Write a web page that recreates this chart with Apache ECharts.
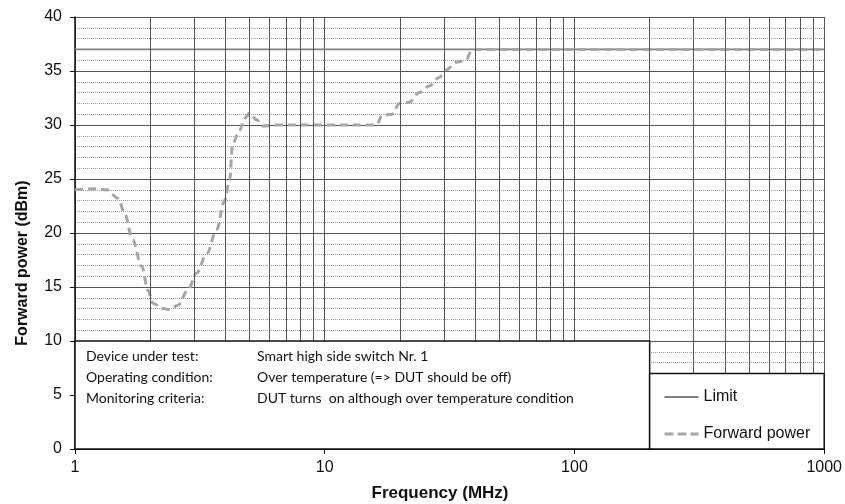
<!DOCTYPE html>
<html>
<head>
    <meta http-equiv="Content-Type" content="text/html; charset=utf-8"/>
    <title>Forward power</title>
    <style type="text/css">
        body { margin: 0; background: #fff; }
        #container { width: 845px; height: 504px; }
    </style>
</head>
<body>
<div id="container"></div>
<script src="https://cdn.jsdelivr.net/npm/echarts@6/dist/echarts.min.js"></script>
<script type="text/javascript">
    // frequency (MHz) and forward power (dBm)
    var freqs = [1, 1.2, 1.34, 1.49, 1.58, 1.70, 1.85, 1.96, 2.05, 2.25, 2.40, 2.58, 2.83, 3.07, 3.37, 3.69, 3.97, 4.16, 4.28, 4.56, 4.78, 5.0, 5.33, 5.64, 6.5, 10, 16.1, 17.0, 18.6, 19.9, 21.8, 23.9, 26.2, 28.7, 30.6, 33.6, 36.8, 38.9, 40, 100, 1000];
    var power = [24.0, 24.1, 24.0, 23.2, 21.8, 19.4, 16.9, 14.7, 13.5, 13.0, 12.9, 13.3, 14.7, 16.3, 18.1, 20.3, 23.0, 24.9, 28.3, 29.5, 30.6, 31.1, 30.5, 29.9, 30, 30, 30, 30.9, 31.0, 32.0, 32.1, 33.0, 33.6, 34.4, 35.1, 35.8, 36.0, 37, 37, 37, 37];
    var limitFreqs = [1, 1000];
    var limitValues = [37, 37];
    // the 2..9 lines of each decade
    var gridFreqs = [2, 3, 4, 5, 6, 7, 8, 9, 20, 30, 40, 50, 60, 70, 80, 90, 200, 300, 400, 500, 600, 700, 800, 900];
    var infoLabels = ['Device under test:', 'Operating condition:', 'Monitoring criteria:'];
    var infoTexts = ['Smart high side switch Nr. 1', 'Over temperature (=> DUT should be off)', 'DUT turns  on although over temperature condition'];
    // text box and legend box corners, [freq, dBm]
    var infoBox = [[1, 10], [200, 0]];
    var legendBox = [[200, 7], [1000, 0]];

    var myChart = echarts.init(document.getElementById('container'));

    function pairs(xs, ys) {
        var out = [];
        for (var i = 0; i < xs.length; i++) out.push([xs[i], ys[i]]);
        return out;
    }

    var option = {
        animation: false,
        backgroundColor: '#fff',
        textStyle: {fontFamily: 'Liberation Sans, Arial, sans-serif'},
        grid: {left: 75, right: 19, top: 17, bottom: 55, containLabel: false},
        legend: {
            orient: 'vertical', left: 658, top: 384, itemGap: 21,
            itemWidth: 34, itemHeight: 10,
            textStyle: {fontSize: 16, color: '#111'},
            itemStyle: {color: 'transparent', borderWidth: 0},
            data: [
                {name: 'Limit', lineStyle: {color: '#808080', width: 2}},
                {name: 'Forward power', lineStyle: {color: '#a6a6a6', width: 3, type: [9, 4]}}
            ],
            z: 100
        },
        xAxis: {
            type: 'log', logBase: 10, min: 1, max: 1000,
            axisLine: {show: true, onZero: false, lineStyle: {color: '#111', width: 1.5}},
            axisTick: {show: true, length: 5, lineStyle: {color: '#111'}},
            axisLabel: {fontSize: 16, color: '#111', margin: 11, formatter: function (v) { return String(v); }},
            splitLine: {show: true, lineStyle: {color: '#555', width: 1}},
            minorTick: {show: false}, minorSplitLine: {show: false}
        },
        yAxis: {
            type: 'value', min: 0, max: 40, interval: 5,
            axisLine: {show: true, lineStyle: {color: '#111', width: 1.5}},
            axisTick: {show: true, length: 5, lineStyle: {color: '#111'}},
            axisLabel: {fontSize: 16, color: '#111', margin: 13},
            splitLine: {show: true, lineStyle: {color: '#555', width: 1}},
            minorTick: {show: false, splitNumber: 5},
            minorSplitLine: {show: true, lineStyle: {color: '#999', width: 1, type: 'dotted'}}
        },
        series: [
            {
                name: 'grid lines', type: 'line', data: [], z: 1, silent: true,
                markLine: {
                    silent: true, symbol: 'none', label: {show: false}, animation: false,
                    lineStyle: {color: '#555', width: 1, type: 'solid'},
                    data: gridFreqs.map(function (f) { return {xAxis: f}; })
                }
            },
            {
                name: 'Limit', type: 'line', data: pairs(limitFreqs, limitValues), z: 3,
                symbol: 'none', showSymbol: false,
                lineStyle: {color: '#808080', width: 1.8},
                itemStyle: {color: '#808080'}
            },
            {
                name: 'Forward power', type: 'line', data: pairs(freqs, power), z: 4,
                symbol: 'none', showSymbol: false, smooth: 0.35, smoothMonotone: 'x',
                lineStyle: {color: '#a6a6a6', width: 3, type: [8, 5]},
                itemStyle: {color: '#a6a6a6'}
            }
        ]
    };

    myChart.setOption(option);

    // white boxes over the grid, placed through the axes
    function boxRect(box) {
        var a = myChart.convertToPixel({gridIndex: 0}, box[0]);
        var b = myChart.convertToPixel({gridIndex: 0}, box[1]);
        return {x: a[0], y: a[1], width: b[0] - a[0], height: b[1] - a[1]};
    }
    var graphics = [];
    [infoBox, legendBox].forEach(function (box) {
        graphics.push({type: 'rect', shape: boxRect(box), z: 50, silent: true,
            style: {fill: '#fff', stroke: '#111', lineWidth: 1.5}});
    });
    for (var i = 0; i < infoLabels.length; i++) {
        graphics.push({type: 'text', left: 86, top: 349 + i * 21, z: 60,
            style: {text: infoLabels[i], font: '14px Lato', fill: '#111'}});
        graphics.push({type: 'text', left: 257, top: 349 + i * 21, z: 60,
            style: {text: infoTexts[i], font: '14px Lato', fill: '#111'}});
    }
    // axis titles
    graphics.push({type: 'text', x: 440, y: 493, z: 60,
        style: {text: 'Frequency (MHz)', font: 'bold 17px Liberation Sans', fill: '#111', align: 'center', verticalAlign: 'middle'}});
    graphics.push({type: 'text', x: 23, y: 263, rotation: Math.PI / 2, z: 60,
        style: {text: 'Forward power (dBm)', font: 'bold 16px Liberation Sans', fill: '#111', align: 'center', verticalAlign: 'middle'}});
    myChart.setOption({graphic: graphics});
</script>
</body>
</html>
